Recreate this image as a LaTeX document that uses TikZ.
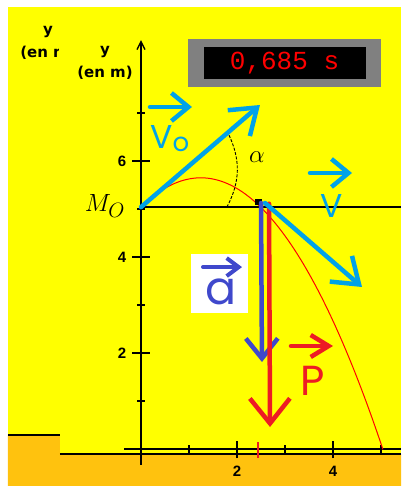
\documentclass[tikz,border=0pt]{standalone}
\usepackage{fontspec}
\setsansfont{Liberation Sans}
\setmonofont{Liberation Mono}
\newfontfamily\vecfont{Poppins}
\newfontfamily\unitfont{DejaVu Sans}
\usepackage{tikz}
\usetikzlibrary{arrows.meta,positioning,calc}
\definecolor{cSky}{HTML}{FFFF00}
\definecolor{cGround}{HTML}{FFC20E}
\definecolor{cVel}{HTML}{00A2E8}
\definecolor{cAcc}{HTML}{3F48CC}
\definecolor{cWeight}{HTML}{ED1C24}
\definecolor{cPanel}{HTML}{808080}
\definecolor{cDigit}{HTML}{FF0000}
\tikzset{
  axisline/.style  = {draw=black, line width=1.4pt},
  groundline/.style = {draw=black, line width=1.5pt},
  tickmark/.style  = {draw=black, line width=1.3pt},
  num/.style       = {font=\sffamily\bfseries\fontsize{15}{15}\selectfont, inner sep=0pt},
  ylab/.style      = {font=\unitfont\bfseries\fontsize{15}{23}\selectfont, align=center, inner sep=0pt},
  vecline/.style   = {line width=4.5pt, line cap=round, line join=round},
  velv/.style      = {vecline, draw=cVel, -{Straight Barb[length=24pt, width=34pt]}},
  accv/.style      = {vecline, draw=cAcc, -{Straight Barb[length=20pt, width=32pt]}},
  wgtv/.style      = {vecline, draw=cWeight, -{Straight Barb[length=25pt, width=40pt]}},
  velmark/.style   = {vecline, draw=cVel, -{Straight Barb[length=17pt, width=28pt]}},
  accmark/.style   = {line width=4pt, line cap=round, draw=cAcc, -{Straight Barb[length=12pt, width=18pt]}},
  wgtmark/.style   = {vecline, draw=cWeight, -{Straight Barb[length=18pt, width=22pt]}},
  vlab/.style      = {font=\vecfont\fontsize{33}{33}\selectfont, inner sep=0pt},
  traj/.style      = {draw=cDigit, line width=1pt},
  anglearc/.style  = {draw=black, line width=0.9pt, dash pattern=on 3pt off 1.5pt},
  panel/.style     = {rectangle, fill=cPanel, minimum width=193pt, minimum height=48pt, inner sep=0pt},
  screen/.style    = {rectangle, fill=black, text=cDigit, minimum width=162pt, minimum height=32pt,
                      inner sep=0pt, font=\ttfamily\fontsize{26}{26}\selectfont},
  abox/.style      = {rectangle, fill=white, minimum width=57pt, minimum height=59pt, inner sep=0pt},
}
\begin{document}
\begin{tikzpicture}[x=48pt, y=48pt]
  \useasboundingbox (-2.9375,-0.7708) rectangle (5.4167,9.3542);
  % sky and ground
  \fill[cSky] (-2.771,-0.7708) rectangle (5.4167,9.208);
  \fill[cGround] (-2.771,-0.7708) -- (-2.771,0.2917) -- (-1.6875,0.2917) -- (-1.6875,-0.1042)
    -- (5.4167,-0.1042) -- (5.4167,-0.7708) -- cycle;
  \draw[groundline] (-2.771,0.2917) -- (-1.6875,0.2917);
  \draw[groundline] (-1.6875,-0.1042) -- (5.4167,-0.1042);

  % axes
  \draw[axisline] (-0.354,0) -- (5.4167,0);
  \draw[axisline, -{Straight Barb[length=8pt, width=8pt]}] (0,-0.333) -- (0,8.52);
  \foreach \y in {1,3,5,7} \draw[tickmark] (-0.08,\y) -- (0.08,\y);
  \foreach \y in {2,4,6} {
    \draw[tickmark] (-0.18,\y) -- (0.18,\y);
    \node[num] (ny\y) at (-0.396,\y) {\y};
  }
  \foreach \x in {1,3,5} \draw[tickmark] (\x,-0.08) -- (\x,0.08);
  \foreach \x in {2,4} {
    \draw[tickmark] (\x,-0.19) -- (\x,0.17);
    \node[num] (nx\x) at (\x,-0.458) {\x};
  }
  \draw[draw=cWeight, line width=1.3pt] (2.44,-0.19) -- (2.44,0.15);

  \begin{scope}
    \clip (-2.771,7.5) rectangle (-1.729,9.2);
    \node[ylab] (yold) at (-1.9375,8.46) {y\\(en m)};
  \end{scope}
  \node[ylab] (yunit) at (-0.75,8.05) {y\\(en m)};

  % clock
  \node[panel] (clock) at (2.99,8.042) {};
  \node[screen] (screen) at (clock.center) {0,685 s};

  % launch point, trajectory, angle
  \coordinate (M0) at (0,5.04);
  \coordinate (v0tip) at (2.479,7.167);
  \draw[black, line width=1.5pt] (M0) -- (5.4167,5.04);
  \draw[traj] plot[domain=0:5.04, samples=80] (\x, {5.04+0.979*\x-0.393*\x*\x});
  \draw[anglearc] (1.79,5.04) to[bend right=27] (1.8125,6.583);
  \node[font=\fontsize{34}{34}\selectfont, inner sep=0pt] (alpha) at (2.417,6.083) {$\alpha$};
  \node[font=\fontsize{31}{31}\selectfont, inner sep=0pt, anchor=base] (mlab) at (-0.75,4.94) {$M_O$};

  % moving point and its vectors
  \node[rectangle, fill=black, minimum width=7pt, minimum height=6pt, inner sep=0pt] (pt) at (2.458,5.156) {};
  \coordinate (a0) at (2.5,5.125);
  \coordinate (atip) at (2.52,1.8125);
  \coordinate (p0) at (2.667,5.11);
  \coordinate (ptip) at (2.688,0.458);
  \coordinate (v1) at (2.583,5.125);
  \coordinate (vtip) at (4.604,3.375);
  \draw[accv] (a0) -- (atip);
  \draw[wgtv] (p0) -- (ptip);
  \draw[velv] (v1) -- (vtip);
  \draw[velv] (M0) -- (v0tip);

  % vector labels
  \draw[velmark] (0.1875,7.125) -- (1.0625,7.125);
  \node[vlab, text=cVel, anchor=base west] (v0lab) at (0.19,6.27)
    {V\raisebox{-3pt}{\fontsize{26}{26}\selectfont o}};
  \draw[velmark] (3.521,5.75) -- (4.396,5.75);
  \node[vlab, text=cVel, anchor=base west] (vlab) at (3.729,4.8125) {V};
  \node[abox] (abox) at (1.635,3.448) {};
  \draw[accmark] (1.292,3.79) -- (2.104,3.79);
  \node[vlab, text=cAcc, font=\vecfont\fontsize{46}{46}\selectfont, anchor=base] (alab) at (1.677,3.0) {a};
  \draw[wgtmark] (3.125,2.146) -- (4.0,2.146);
  \node[vlab, text=cWeight, font=\vecfont\fontsize{42}{42}\selectfont, anchor=base west] (plab) at (3.3125,1.125) {P};
\end{tikzpicture}
\end{document}
